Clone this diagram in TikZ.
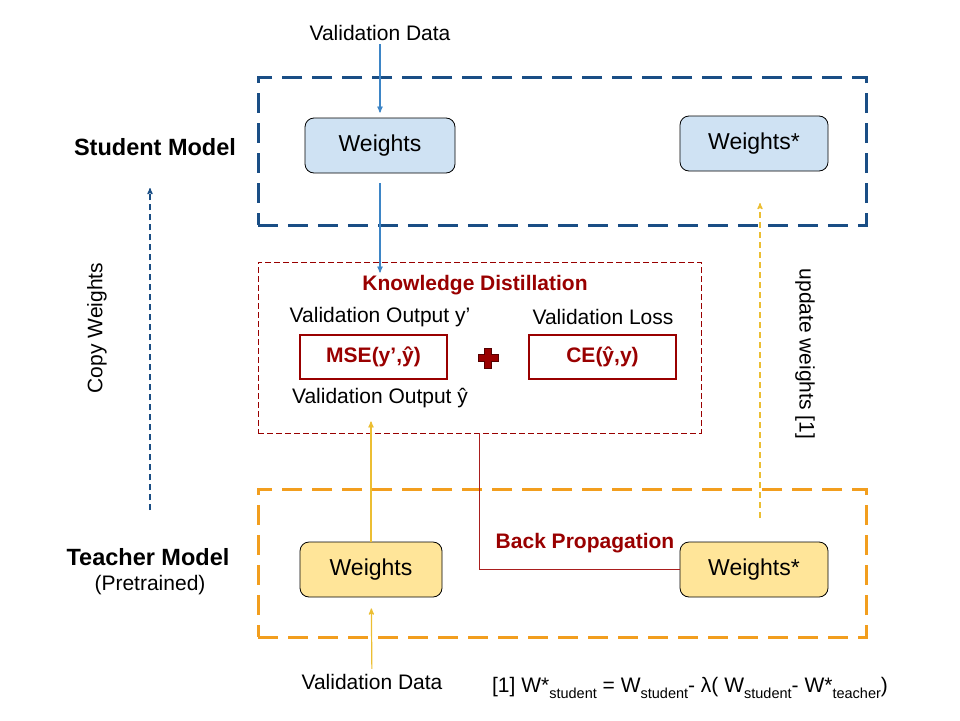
\documentclass[tikz,border=0pt]{standalone}
\usepackage{fontspec}
\setmainfont{Liberation Sans}
\usetikzlibrary{arrows}
\definecolor{kdred}{RGB}{153,0,0}
\definecolor{bpred}{RGB}{170,30,30}
\definecolor{stublue}{RGB}{26,78,133}
\definecolor{teaorange}{RGB}{242,158,30}
\definecolor{wblue}{RGB}{207,226,243}
\definecolor{wyellow}{RGB}{255,229,153}
\definecolor{arrblue}{RGB}{61,133,198}
\definecolor{arryellow}{RGB}{236,190,50}
\newcommand{\fsz}[1]{\fontsize{#1}{#1}\selectfont}
\newcommand{\lowsub}[1]{\raisebox{-0.6ex}{\fsz{14.5}#1}}

\begin{document}
\begin{tikzpicture}[x=1pt,y=-1pt,>=stealth',font=\fsz{21},
  weight node/.style={draw,rounded corners=9pt,minimum width=148pt,minimum height=55pt,line width=0.8pt,font=\fsz{23}},
  model box/.style={line width=3pt,dash pattern=on 20pt off 10pt,minimum width=608pt,minimum height=148pt},
  loss box/.style={draw=kdred,line width=1.2pt,minimum width=147pt,minimum height=44pt,text=kdred,font=\fsz{21}\bfseries}]
  \useasboundingbox (0,0) rectangle (960,720);

  \node[model box,draw=stublue] (student) at (562,151) {};
  \node[model box,draw=teaorange] (teacher) at (562,563) {};
  \node[draw=kdred,line width=0.8pt,dash pattern=on 6pt off 3pt,minimum width=443pt,minimum height=171pt] (kd) at (479.5,347.5) {};

  \node[weight node,fill=wblue,minimum width=150pt] (sw) at (380,145.5) {Weights};
  \node[weight node,fill=wblue] (sws) at (754,143.5) {Weights*};
  \node[weight node,fill=wyellow,minimum width=142pt] (tw) at (371,569.5) {Weights};
  \node[weight node,fill=wyellow] (tws) at (754,569.5) {Weights*};

  \node (vdtop) at (380,33) {Validation Data};
  \node (vdbot) at (372,682) {Validation Data};
  \node[font=\fsz{23.5}\bfseries] (slabel) at (155,147) {Student Model};
  \node[font=\fsz{23.5}\bfseries] (tlabel) at (148,557) {Teacher Model};
  \node (pre) at (150,585) {(Pretrained)};

  \node[text=kdred,font=\fsz{21}\bfseries] (kdlabel) at (475,285) {Knowledge Distillation};
  \node (outy) at (380,317) {Validation Output y’};
  \node (loss) at (603,317) {Validation Loss};
  \node[loss box] (mse) at (373.5,357) {MSE(y’,ŷ)};
  \node[loss box] (ce) at (602.5,357) {CE(ŷ,y)};
  \node (outyhat) at (380,398) {Validation Output ŷ};
  \filldraw[fill=kdred,draw=kdred!55!black,line width=0.6pt] (488,358) ++(-3.5,-10) -- ++(7,0) -- ++(0,6.5) -- ++(6.5,0) -- ++(0,7) -- ++(-6.5,0) -- ++(0,6.5) -- ++(-7,0) -- ++(0,-6.5) -- ++(-6.5,0) -- ++(0,-7) -- ++(6.5,0) -- cycle;

  \node[text=kdred,font=\fsz{21}\bfseries] (bplabel) at (585,543) {Back Propagation};
  \node[rotate=90] (copylabel) at (97,328) {Copy Weights};
  \node[rotate=-90] (updlabel) at (805,354) {update weights [1]};
  \node (formula) at (690,688) {[1] W*\lowsub{student} = W\lowsub{student}- λ( W\lowsub{student}- W*\lowsub{teacher})};

  \coordinate (copyfrom) at (150,510);
  \coordinate (copyto) at (150,188);
  \coordinate (updfrom) at (760,518);
  \coordinate (updto) at (760,203);
  \coordinate (kdin) at ([yshift=-11pt]sw.south |- kd.north);
  \coordinate (kdup) at ([yshift=12pt]tw.north |- kd.south);

\path[->,line width=1.2pt]
  (vdtop) edge [draw=arrblue,shorten >=5pt] (sw)
  (sw) edge [draw=arrblue,shorten <=10pt] (kdin)
  (tw) edge [draw=arryellow] (kdup)
  (copyfrom) edge [draw=stublue,dash pattern=on 6pt off 4pt] (copyto)
  (updfrom) edge [draw=arryellow,dash pattern=on 6pt off 4pt] (updto)
  (vdbot) edge [draw=arryellow,shorten <=2pt,shorten >=11pt] (tw)
;
  \draw[draw=bpred,line width=1.5pt] (kd.south) |- (tws.west);
\end{tikzpicture}
\end{document}
